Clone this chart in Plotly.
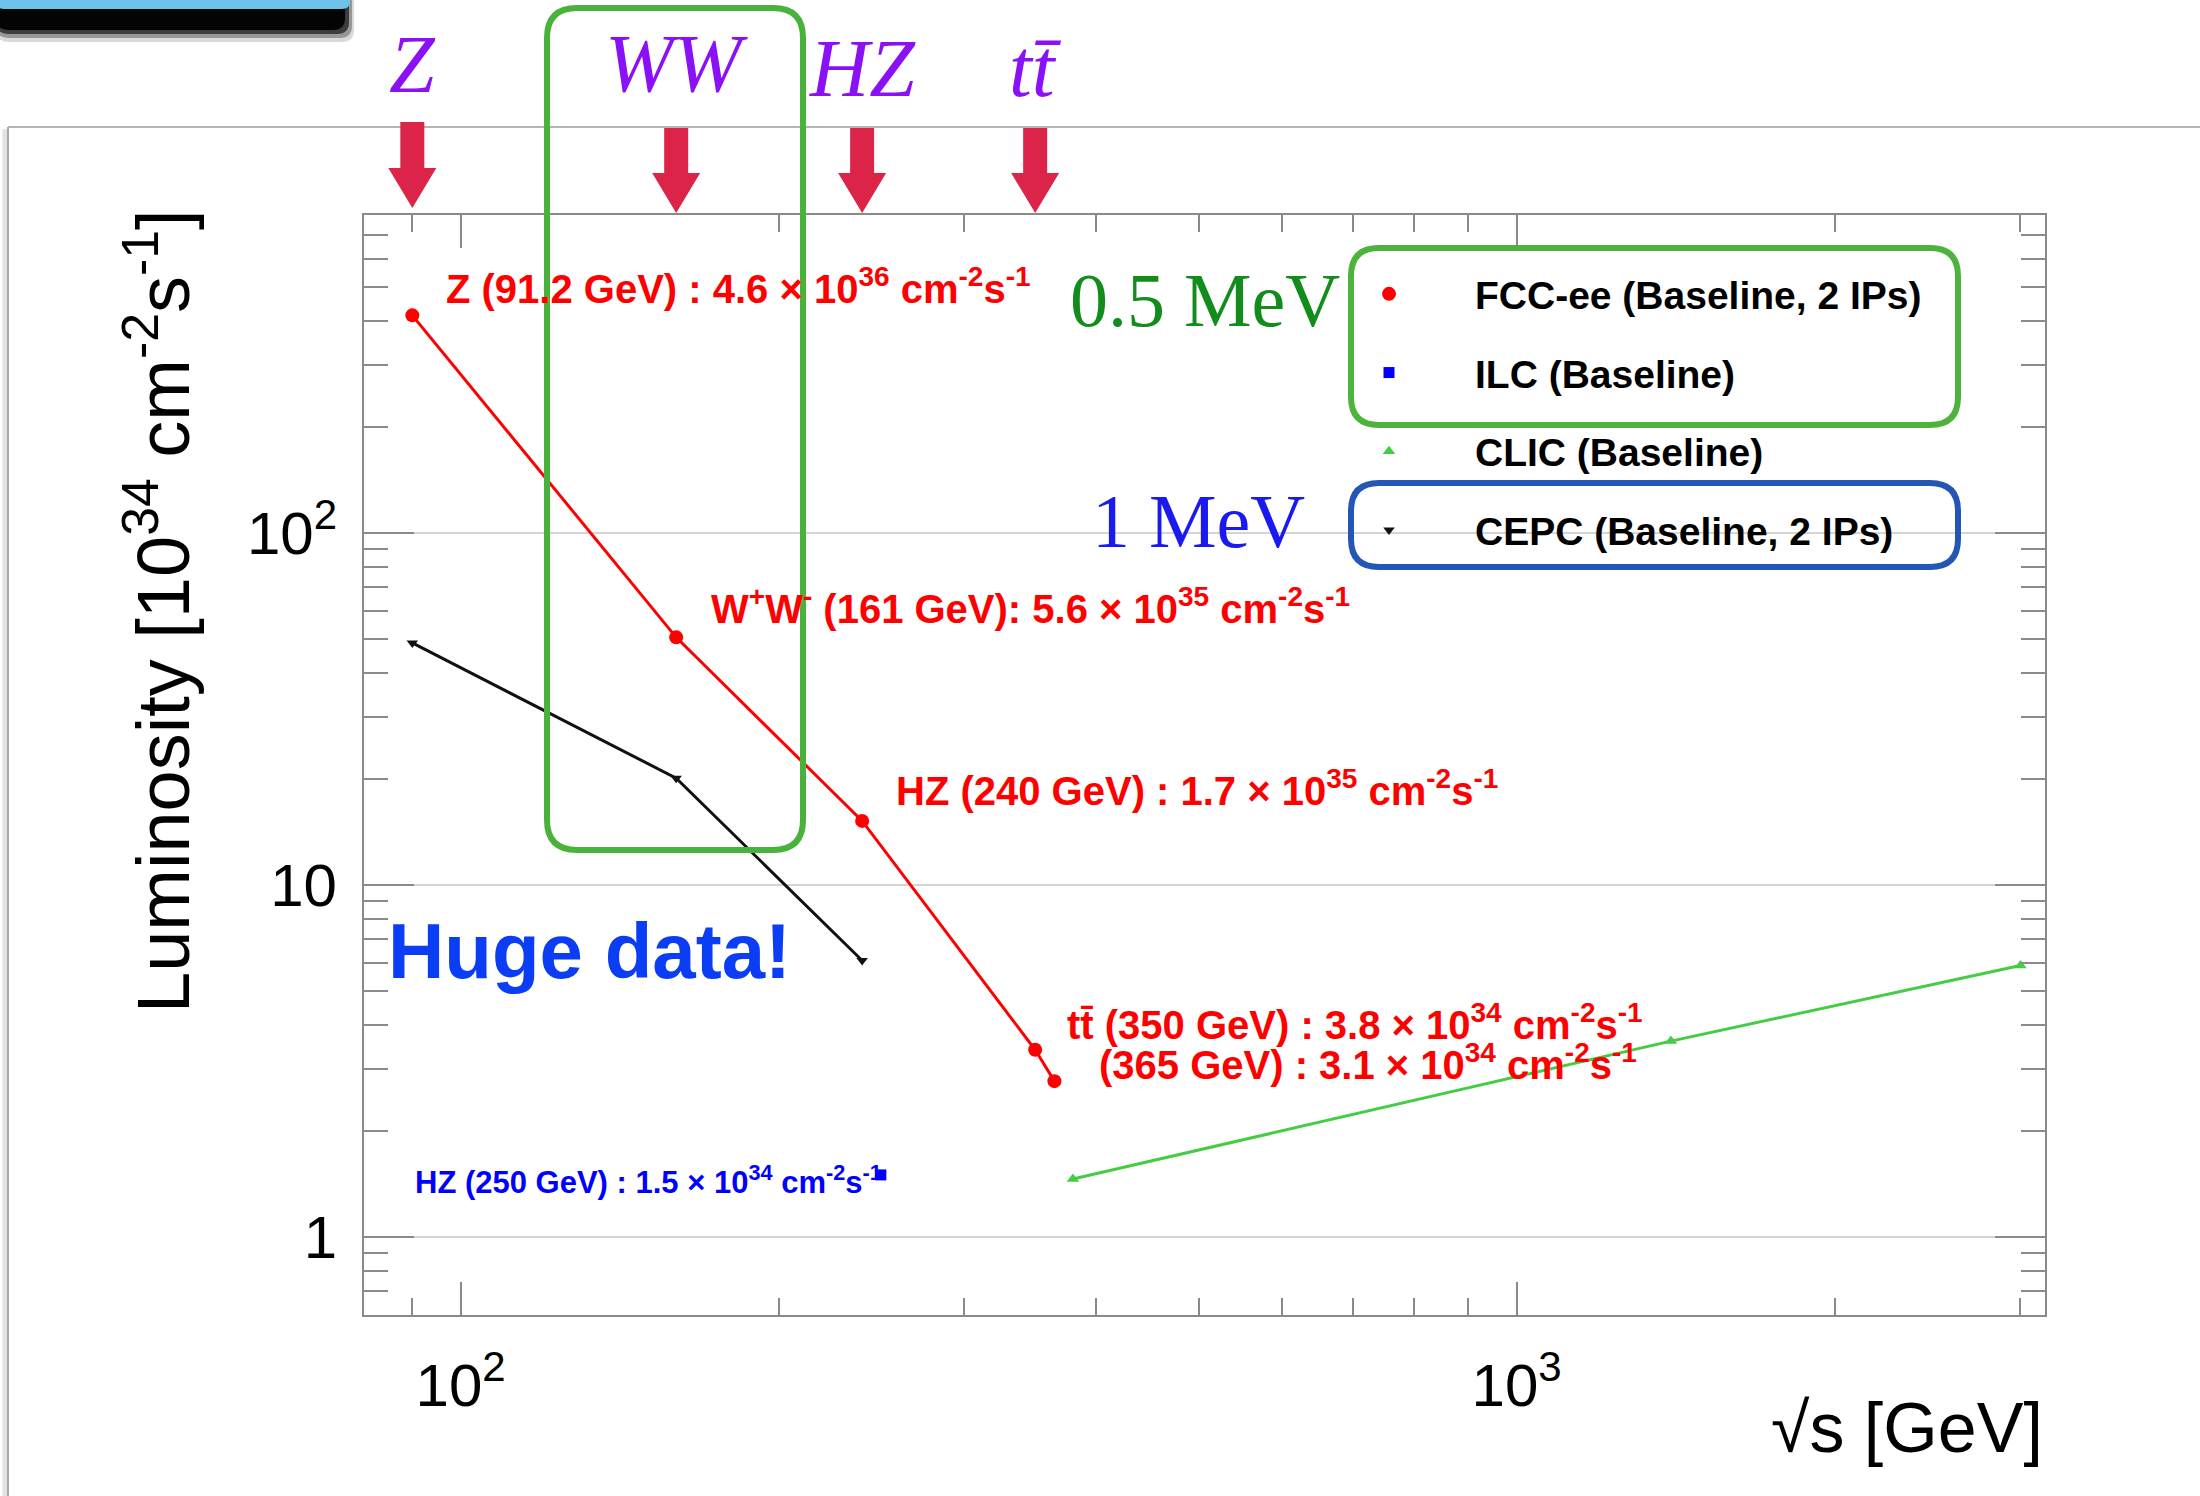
import math
import plotly.graph_objects as go

# ---------------- data ----------------
fcc_x = [90, 160, 240, 350, 365]
fcc_y = [415, 50.5, 15.2, 3.4, 2.77]
cepc_x = [90, 160, 240]
cepc_y = [48.7, 20.1, 6.1]
clic_x = [380, 1400, 3000]
clic_y = [1.46, 3.6, 5.9]
ilc_x = [250]
ilc_y = [1.5]

series_names = ["FCC-ee (Baseline, 2 IPs)", "ILC (Baseline)", "CLIC (Baseline)", "CEPC (Baseline, 2 IPs)"]

x_major = [100, 1000]
x_major_text = ["10<sup>2</sup>", "10<sup>3</sup>"]
x_minor = [90, 200, 300, 400, 500, 600, 700, 800, 900, 2000, 3000]
y_major = [1, 10, 100]
y_major_text = ["1", "10", "10<sup>2</sup>"]
y_minor = [0.6, 0.7, 0.8, 0.9, 2, 3, 4, 5, 6, 7, 8, 9,
           20, 30, 40, 50, 60, 70, 80, 90, 200, 300, 400, 500, 600, 700]

proc_labels = ["Z", "WW", "HZ", "tt\u0304"]
proc_energies = [90, 160, 240, 350]

point_labels = [
    "Z (91.2 GeV) : 4.6 \u00d7 10<sup>36</sup> cm<sup>-2</sup>s<sup>-1</sup>",
    "W<sup>+</sup>W<sup>-</sup> (161 GeV): 5.6 \u00d7 10<sup>35</sup> cm<sup>-2</sup>s<sup>-1</sup>",
    "HZ (240 GeV) : 1.7 \u00d7 10<sup>35</sup> cm<sup>-2</sup>s<sup>-1</sup>",
    "tt\u0304 (350 GeV) : 3.8 \u00d7 10<sup>34</sup> cm<sup>-2</sup>s<sup>-1</sup>",
    "(365 GeV) : 3.1 \u00d7 10<sup>34</sup> cm<sup>-2</sup>s<sup>-1</sup>",
]
ilc_label = "HZ (250 GeV) : 1.5 \u00d7 10<sup>34</sup> cm<sup>-2</sup>s<sup>-1</sup>"

# ---------------- layout geometry ----------------
W, H = 2200, 1496
L, R, T, B = 364, 2045, 215, 1315
X_MIN, X_MAX = 81.0, 3165.0
Y_MIN, Y_MAX = 0.6, 800.0


def px(x):
    return (x - L) / (R - L)


def py(y):
    return (B - y) / (B - T)


def ex(e):
    """paper x of an energy value on the log x axis"""
    return (math.log10(e) - math.log10(X_MIN)) / (math.log10(X_MAX) - math.log10(X_MIN))


def rrect(x0, y0, x1, y1, r):
    return (f"M {px(x0 + r)},{py(y0)} L {px(x1 - r)},{py(y0)} "
            f"Q {px(x1)},{py(y0)} {px(x1)},{py(y0 + r)} L {px(x1)},{py(y1 - r)} "
            f"Q {px(x1)},{py(y1)} {px(x1 - r)},{py(y1)} L {px(x0 + r)},{py(y1)} "
            f"Q {px(x0)},{py(y1)} {px(x0)},{py(y1 - r)} L {px(x0)},{py(y0 + r)} "
            f"Q {px(x0)},{py(y0)} {px(x0 + r)},{py(y0)} Z")


SANS = "Liberation Sans, Arial, Helvetica, sans-serif"
SERIF = "Liberation Serif, Times New Roman, serif"
RED = "#FF0000"

fig = go.Figure()

# lines
fig.add_trace(go.Scatter(x=fcc_x, y=fcc_y, mode="lines", line=dict(color=RED, width=3),
                         showlegend=False, hoverinfo="skip"))
fig.add_trace(go.Scatter(x=cepc_x, y=cepc_y, mode="lines", line=dict(color="#111111", width=3),
                         showlegend=False, hoverinfo="skip"))
fig.add_trace(go.Scatter(x=clic_x, y=clic_y, mode="lines", line=dict(color="#44CC44", width=3),
                         showlegend=False, hoverinfo="skip"))
# markers (legend entries)
fig.add_trace(go.Scatter(x=fcc_x, y=fcc_y, mode="markers", name=series_names[0], legendgroup="a",
                         marker=dict(color=RED, size=14, symbol="circle")))
fig.add_trace(go.Scatter(x=ilc_x, y=ilc_y, mode="markers", name=series_names[1], legendgroup="b",
                         marker=dict(color="#0000FF", size=11, symbol="square")))
fig.add_trace(go.Scatter(x=clic_x, y=clic_y, mode="markers", name=series_names[2], legendgroup="c",
                         marker=dict(color="#44CC44", size=11, symbol="triangle-up")))
fig.add_trace(go.Scatter(x=cepc_x, y=cepc_y, mode="markers", name=series_names[3], legendgroup="d",
                         marker=dict(color="#111111", size=10, symbol="triangle-down")))
# invisible helper trace on the overlay axes (major ticks / labels)
fig.add_trace(go.Scatter(x=fcc_x, y=fcc_y, xaxis="x2", yaxis="y2", mode="markers",
                         marker=dict(opacity=0), showlegend=False, hoverinfo="skip"))

TICKC = "#8a8a8a"
xr = [math.log10(X_MIN), math.log10(X_MAX)]
yr = [math.log10(Y_MIN), math.log10(Y_MAX)]

fig.update_layout(
    width=W, height=H,
    margin=dict(l=L, r=W - R, t=T, b=H - B, pad=0),
    paper_bgcolor="white", plot_bgcolor="white",
    font=dict(family=SANS, color="black"),
    xaxis=dict(type="log", range=xr, tickmode="array", tickvals=x_minor, ticks="inside",
               ticklen=17, tickwidth=2, tickcolor=TICKC, showticklabels=False,
               showline=True, linecolor=TICKC, linewidth=2, mirror="ticks",
               showgrid=False, zeroline=False),
    xaxis2=dict(type="log", range=xr, overlaying="x", anchor="y", side="bottom",
                tickmode="array", tickvals=x_major, ticktext=x_major_text, ticks="inside",
                ticklen=33, tickwidth=2, tickcolor=TICKC, mirror="ticks", showline=False,
                showgrid=False, zeroline=False, ticklabelstandoff=30,
                tickfont=dict(size=60, family=SANS, color="black")),
    yaxis=dict(type="log", range=yr, tickmode="array", tickvals=y_minor, ticks="inside",
               ticklen=24, tickwidth=2, tickcolor=TICKC, showticklabels=False,
               showline=True, linecolor=TICKC, linewidth=2, mirror="ticks",
               showgrid=False, zeroline=False),
    yaxis2=dict(type="log", range=yr, overlaying="y", anchor="x", side="left",
                tickmode="array", tickvals=y_major, ticktext=y_major_text, ticks="inside",
                ticklen=50, tickwidth=2, tickcolor=TICKC, mirror="ticks", showline=False,
                showgrid=True, gridcolor="#D4D4D4", gridwidth=2, zeroline=False,
                ticklabelstandoff=26, tickfont=dict(size=60, family=SANS, color="black")),
    legend=dict(x=px(1303), y=py(262), xanchor="left", yanchor="top",
                bgcolor="rgba(0,0,0,0)", borderwidth=0, itemwidth=162,
                tracegroupgap=25, traceorder="grouped",
                font=dict(size=39, family=SANS, color="black", weight="bold")),
)

shapes = []
# slide decorations: top-left banner with shadow
for (x1, y1, op) in [(354, 42, 0.15), (352, 38, 0.3), (349, 34, 0.6), (345, 30, 0.92)]:
    shapes.append(dict(type="path", xref="paper", yref="paper", path=rrect(-4, -10, x1, y1, 12),
                       fillcolor="black", opacity=op, line=dict(width=0), layer="above"))
shapes.append(dict(type="path", xref="paper", yref="paper", path=rrect(-4, -10, 350, 9, 8),
                   fillcolor="#6EC3EA", line=dict(width=0), layer="above"))
# white panel outline
shapes.append(dict(type="line", xref="paper", yref="paper", x0=px(5), x1=px(5), y0=py(129), y1=py(H),
                   line=dict(color="#E2E2E2", width=5), layer="above"))
shapes.append(dict(type="line", xref="paper", yref="paper", x0=px(8), x1=px(W), y0=py(127), y1=py(127),
                   line=dict(color="#B5B5B5", width=2), layer="above"))
shapes.append(dict(type="line", xref="paper", yref="paper", x0=px(8), x1=px(8), y0=py(127), y1=py(H),
                   line=dict(color="#A8A8A8", width=2), layer="above"))

# red arrows pointing at the thresholds
arrow_geom = [(122, 168, 208), (128, 173, 213), (128, 173, 213), (128, 173, 213)]
for e, (top, hs, tip) in zip(proc_energies, arrow_geom):
    cx = L + ex(e) * (R - L)
    path = (f"M {px(cx - 12)},{py(top)} L {px(cx + 12)},{py(top)} L {px(cx + 12)},{py(hs)} "
            f"L {px(cx + 24)},{py(hs)} L {px(cx)},{py(tip)} L {px(cx - 24)},{py(hs)} "
            f"L {px(cx - 12)},{py(hs)} Z")
    shapes.append(dict(type="path", xref="paper", yref="paper", path=path,
                       fillcolor="#DC2448", line=dict(width=0), layer="above"))

# hand-drawn style boxes
shapes.append(dict(type="path", xref="paper", yref="paper", path=rrect(547, 8, 803, 850, 30),
                   line=dict(color="#48B23A", width=6), layer="above"))
shapes.append(dict(type="path", xref="paper", yref="paper", path=rrect(1351, 248, 1958, 425, 28),
                   line=dict(color="#4DB33D", width=6), layer="above"))
shapes.append(dict(type="path", xref="paper", yref="paper", path=rrect(1351, 483, 1958, 567, 28),
                   line=dict(color="#2356B5", width=6), layer="above"))
fig.update_layout(shapes=shapes)

ann = []
# process labels above the chart
label_y = [64, 63, 68, 68]
for lab, e, yy in zip(proc_labels, proc_energies, label_y):
    ann.append(dict(xref="paper", yref="paper", x=ex(e), y=py(yy), text=lab, showarrow=False,
                    xanchor="center", yanchor="middle",
                    font=dict(family=SERIF, size=82, color="#8A10F5", style="italic")))

# red point labels
lab_pos = [(444, 286), (709, 606), (894, 788), (1065, 1022), (1097, 1062)]
for t, (lx, ly) in zip(point_labels, lab_pos):
    ann.append(dict(xref="paper", yref="paper", x=px(lx), y=py(ly), text=t, showarrow=False,
                    xanchor="left", yanchor="middle",
                    font=dict(family=SANS, size=40, color=RED, weight="bold")))
ann.append(dict(xref="paper", yref="paper", x=px(413), y=py(1180), text=ilc_label, showarrow=False,
                xanchor="left", yanchor="middle",
                font=dict(family=SANS, size=31, color="#0000FF", weight="bold")))

# overlay remarks
ann.append(dict(xref="paper", yref="paper", x=px(386), y=py(951), text="Huge data!", showarrow=False,
                xanchor="left", yanchor="middle",
                font=dict(family=SANS, size=78, color="#0B3DF5", weight="bold")))
ann.append(dict(xref="paper", yref="paper", x=px(1068), y=py(300), text="0.5 MeV", showarrow=False,
                xanchor="left", yanchor="middle",
                font=dict(family=SERIF, size=76, color="#128C1A")))
ann.append(dict(xref="paper", yref="paper", x=px(1090), y=py(521), text="1 MeV", showarrow=False,
                xanchor="left", yanchor="middle",
                font=dict(family=SERIF, size=76, color="#1A1AF0")))

# axis titles
ann.append(dict(xref="paper", yref="paper", x=px(158), y=py(611), textangle=-90,
                text="Luminosity [10<sup>34</sup> cm<sup>-2</sup>s<sup>-1</sup>]", showarrow=False,
                xanchor="center", yanchor="middle",
                font=dict(family=SANS, size=74, color="black")))
ann.append(dict(xref="paper", yref="paper", x=px(2045), y=py(1428), text="\u221as [GeV]",
                showarrow=False, xanchor="right", yanchor="middle",
                font=dict(family=SANS, size=70, color="black")))
fig.update_layout(annotations=ann)

fig.write_html("out.html", config={"displayModeBar": False},
               post_script="document.body.style.margin='0px';document.body.style.overflow='hidden';")
